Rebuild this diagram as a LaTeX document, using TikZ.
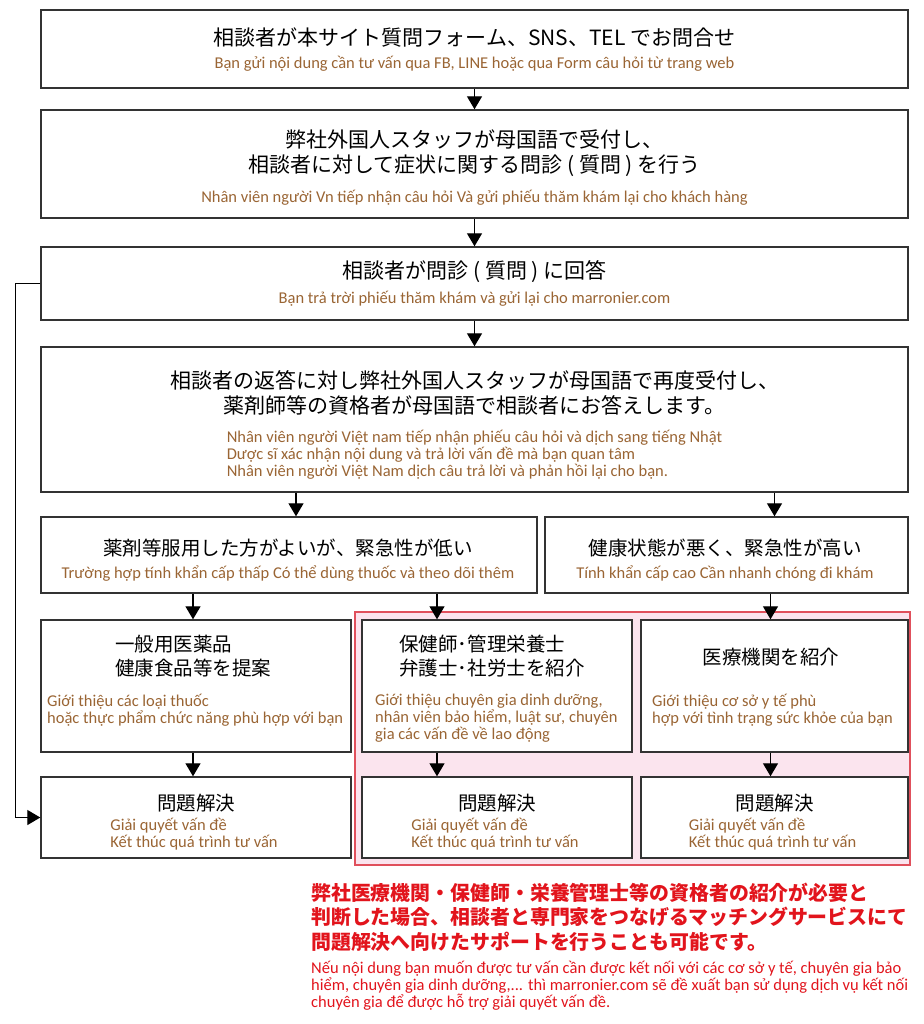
\documentclass[tikz,border=0pt]{standalone}
\usepackage{fontspec}
\setmainfont{Carlito}
\newfontfamily\jp{Noto Sans CJK JP}
\usetikzlibrary{arrows.meta}
\definecolor{vtc}{HTML}{9A6534}
\definecolor{redt}{HTML}{E2141C}
\definecolor{pinkf}{HTML}{FBE4EE}
\definecolor{pinkb}{HTML}{E0505C}
\definecolor{boxc}{HTML}{333333}
\tikzset{
  box/.style={draw=boxc,line width=1.4pt,fill=white,inner sep=0pt},
  jt/.style={font=\jp\fontsize{21}{25}\selectfont,inner sep=0pt,align=center},
  jts/.style={font=\jp\fontsize{19.5}{24}\selectfont,inner sep=0pt,align=left},
  vt/.style={font=\fontsize{16.5}{17}\selectfont,text=vtc,inner sep=0pt,align=left},
  arr/.style={line width=1.3pt,-{Triangle[width=15pt,length=13pt]}},
  redj/.style={font=\jp\bfseries\fontsize{19.9}{24.5}\selectfont,text=redt,inner sep=0pt,align=left},
  redv/.style={font=\fontsize{16.5}{17}\selectfont,text=redt,inner sep=0pt,align=left}
}
\begin{document}
\begin{tikzpicture}[x=1pt,y=-1pt]
\useasboundingbox[fill=white] (0,0) rectangle (923,1024);
% pink region
\node[draw=pinkb,fill=pinkf,line width=1.3pt,minimum width=555pt,minimum height=253pt,inner sep=0pt] (pink) at (632.5,738.5) {};
% boxes
\node[box,minimum width=867pt,minimum height=78pt] (b1) at (474.5,49) {};
\node[box,minimum width=867pt,minimum height=108pt] (b2) at (474.5,164) {};
\node[box,minimum width=867pt,minimum height=73pt] (b3) at (474.5,283.5) {};
\node[box,minimum width=867pt,minimum height=145pt] (b4) at (474.5,419.5) {};
\node[box,minimum width=496pt,minimum height=76pt] (b5a) at (289,555) {};
\node[box,minimum width=363pt,minimum height=76pt] (b5b) at (726.5,555) {};
\node[box,minimum width=310pt,minimum height=132pt] (b6a) at (196,686) {};
\node[box,minimum width=270pt,minimum height=132pt] (b6b) at (497,686) {};
\node[box,minimum width=267pt,minimum height=132pt] (b6c) at (774.5,686) {};
\node[box,minimum width=310pt,minimum height=81pt] (b7a) at (196,817.5) {};
\node[box,minimum width=270pt,minimum height=81pt] (b7b) at (497,817.5) {};
\node[box,minimum width=267pt,minimum height=81pt] (b7c) at (774.5,817.5) {};
% texts
\node[jt] (t1) at (474.5,37) {相談者が本サイト質問フォーム、SNS、TEL でお問合せ};
\node[vt] (s1) at (474.5,64) {Bạn gửi nội dung cần tư vấn qua FB, LINE hoặc qua Form câu hỏi từ trang web};
\node[jt] (t2) at (474.5,153.5) {弊社外国人スタッフが母国語で受付し、\\相談者に対して症状に関する問診 ( 質問 ) を行う};
\node[vt] (s2) at (474.5,198) {Nhân viên người Vn tiếp nhận câu hỏi Và gửi phiếu thăm khám lại cho khách hàng};
\node[jt] (t3) at (474.5,272) {相談者が問診 ( 質問 ) に回答};
\node[vt] (s3) at (474.5,299) {Bạn trả trời phiếu thăm khám và gửi lại cho marronier.com};
\node[jt] (t4) at (474.5,393) {相談者の返答に対し弊社外国人スタッフが母国語で再度受付し、\\薬剤師等の資格者が母国語で相談者にお答えします。};
\node[vt] (s4) at (474.5,455) {Nhân viên người Việt nam tiếp nhận phiếu câu hỏi và dịch sang tiếng Nhật\\Dược sĩ xác nhận nội dung và trả lời vấn đề mà bạn quan tâm\\Nhân viên người Việt Nam dịch câu trả lời và phản hồi lại cho bạn.};
\node[jts] (t5a) at (288,548) {薬剤等服用した方がよいが、緊急性が低い};
\node[vt] (s5a) at (288,574) {Trường hợp tính khẩn cấp thấp Có thể dùng thuốc và theo dõi thêm};
\node[jts] (t5b) at (725,548) {健康状態が悪く、緊急性が高い};
\node[vt] (s5b) at (725,574) {Tính khẩn cấp cao Cần nhanh chóng đi khám};
\node[jts] (t6a) at (193,656) {一般用医薬品\\健康食品等を提案};
\node[vt,anchor=west] (s6a) at (47,710) {Giới thiệu các loại thuốc\\hoặc thực phẩm chức năng phù hợp với bạn};
\node[jts] (t6b) at (492,656) {保健師･管理栄養士\\弁護士･社労士を紹介};
\node[vt,anchor=west] (s6b) at (375,718.5) {Giới thiệu chuyên gia dinh dưỡng,\\nhân viên bảo hiểm, luật sư, chuyên\\gia các vấn đề về lao động};
\node[jts] (t6c) at (771,657) {医療機関を紹介};
\node[vt,anchor=west] (s6c) at (652,710) {Giới thiệu cơ sở y tế phù\\hợp với tình trạng sức khỏe của bạn};
\foreach \b/\x in {a/196,b/497,c/774.5}{
  \node[jts] (t7\b) at (\x,803) {問題解決};
  \node[vt] (s7\b) at (\x-2,834.5) {Giải quyết vấn đề\\Kết thúc quá trình tư vấn};
}
\node[redj,anchor=west] (rj) at (311,917) {弊社医療機関・保健師・栄養管理士等の資格者の紹介が必要と\\判断した場合、相談者と専門家をつなげるマッチングサービスにて\\問題解決へ向けたサポートを行うことも可能です。};
\node[redv,anchor=west] (rv) at (311,986) {Nếu nội dung bạn muốn được tư vấn cần được kết nối với các cơ sở y tế, chuyên gia bảo\\hiểm, chuyên gia dinh dưỡng,... thì marronier.com sẽ đề xuất bạn sử dụng dịch vụ kết nối\\chuyên gia để được hỗ trợ giải quyết vấn đề.};
% arrows
\draw[arr] (b1) -- (b2);
\draw[arr] (b2) -- (b3);
\draw[arr] (b3) -- (b4);
\draw[arr] ([xshift=7pt]b4.south -| b5a.north) -- ([xshift=7pt]b5a.north);
\draw[arr] (b4.south -| b6c.north) -- (b5b.north -| b6c.north);
\draw[arr] ([xshift=-3pt]b5a.south -| b6a.north) -- ([xshift=-3pt]b6a.north);
\draw[arr] ([xshift=-60pt]b5a.south -| b6b.north) -- ([xshift=-60pt]b6b.north);
\draw[arr] ([xshift=-4pt]b5b.south -| b6c.north) -- ([xshift=-4pt]b6c.north);
\draw[arr] ([xshift=-3pt]b6a.south) -- ([xshift=-3pt]b7a.north);
\draw[arr] ([xshift=-60pt]b6b.south) -- ([xshift=-60pt]b7b.north);
\draw[arr] ([xshift=-4pt]b6c.south) -- ([xshift=-4pt]b7c.north);
\draw[arr] (b3.west) -- ++(-25,0) |- (b7a.west);
\end{tikzpicture}
\end{document}
